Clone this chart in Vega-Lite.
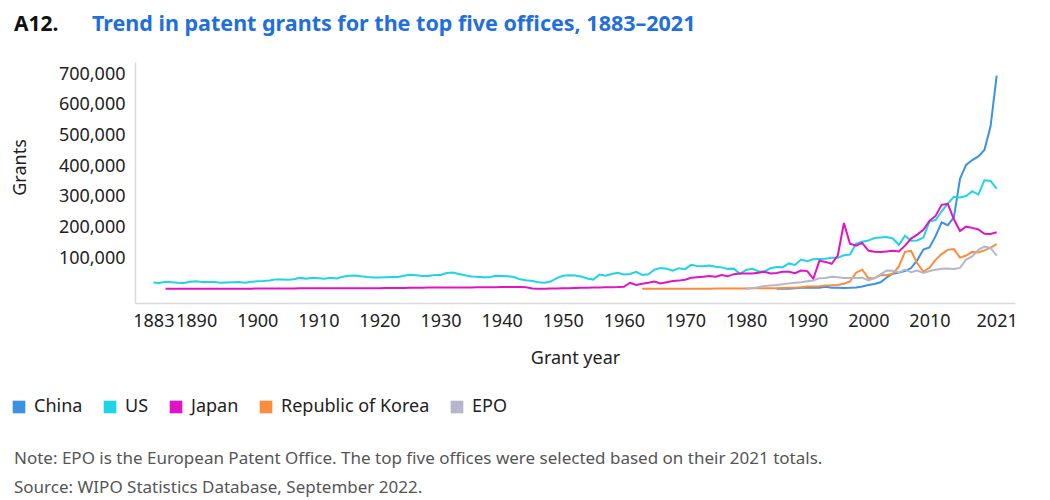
{
"$schema": "https://vega.github.io/schema/vega-lite/v6.json",
"width": 880, "height": 241,
"autosize": {"type": "none"},
"padding": {"left": 135, "top": 62, "right": 35, "bottom": 197},
"background": "white",
"config": {"view": {"stroke": null}, "font": "Noto Sans"},
"title": {"text": "A12.", "subtitle": "Trend in patent grants for the top five offices, 1883–2021", "anchor": "start", "frame": "group", "dx": -121, "offset": 27, "font": "Noto Sans", "fontSize": 21, "fontWeight": "bold", "color": "#111111", "subtitleFont": "Noto Sans", "subtitleFontSize": 21.5, "subtitleFontWeight": "bold", "subtitleColor": "#1f6fdc", "subtitlePadding": -21,
 "encode": {"subtitle": {"update": {"dx": {"value": -43}}}}},
"datasets": {
"us": [
{"year":1883,"grants":21200},{"year":1884,"grants":19100},{"year":1885,"grants":23300},{"year":1886,"grants":21800},{"year":1887,"grants":20400},{"year":1888,"grants":19600},{"year":1889,"grants":23300},{"year":1890,"grants":25300},{"year":1891,"grants":22300},{"year":1892,"grants":22700},{"year":1893,"grants":22800},{"year":1894,"grants":19900},{"year":1895,"grants":20900},{"year":1896,"grants":21900},{"year":1897,"grants":22100},{"year":1898,"grants":20400},{"year":1899,"grants":23300},{"year":1900,"grants":24600},{"year":1901,"grants":25500},{"year":1902,"grants":27100},{"year":1903,"grants":31000},{"year":1904,"grants":30300},{"year":1905,"grants":29800},{"year":1906,"grants":31200},{"year":1907,"grants":35900},{"year":1908,"grants":32800},{"year":1909,"grants":36600},{"year":1910,"grants":35100},{"year":1911,"grants":32900},{"year":1912,"grants":36200},{"year":1913,"grants":33900},{"year":1914,"grants":39900},{"year":1915,"grants":43100},{"year":1916,"grants":43900},{"year":1917,"grants":40900},{"year":1918,"grants":38500},{"year":1919,"grants":36800},{"year":1920,"grants":37100},{"year":1921,"grants":37800},{"year":1922,"grants":38400},{"year":1923,"grants":38600},{"year":1924,"grants":42600},{"year":1925,"grants":46400},{"year":1926,"grants":44700},{"year":1927,"grants":41700},{"year":1928,"grants":42400},{"year":1929,"grants":45300},{"year":1930,"grants":45200},{"year":1931,"grants":51800},{"year":1932,"grants":53500},{"year":1933,"grants":48800},{"year":1934,"grants":44400},{"year":1935,"grants":40600},{"year":1936,"grants":39800},{"year":1937,"grants":37700},{"year":1938,"grants":38100},{"year":1939,"grants":43100},{"year":1940,"grants":42200},{"year":1941,"grants":41100},{"year":1942,"grants":38500},{"year":1943,"grants":31100},{"year":1944,"grants":28100},{"year":1945,"grants":25700},{"year":1946,"grants":21800},{"year":1947,"grants":20100},{"year":1948,"grants":24000},{"year":1949,"grants":35100},{"year":1950,"grants":43000},{"year":1951,"grants":44400},{"year":1952,"grants":43600},{"year":1953,"grants":40500},{"year":1954,"grants":33800},{"year":1955,"grants":30400},{"year":1956,"grants":46800},{"year":1957,"grants":42700},{"year":1958,"grants":48300},{"year":1959,"grants":52400},{"year":1960,"grants":47200},{"year":1961,"grants":48400},{"year":1962,"grants":55700},{"year":1963,"grants":45700},{"year":1964,"grants":47400},{"year":1965,"grants":62900},{"year":1966,"grants":68400},{"year":1967,"grants":65700},{"year":1968,"grants":59100},{"year":1969,"grants":67600},{"year":1970,"grants":64400},{"year":1971,"grants":78300},{"year":1972,"grants":74800},{"year":1973,"grants":74100},{"year":1974,"grants":76300},{"year":1975,"grants":72000},{"year":1976,"grants":70200},{"year":1977,"grants":65300},{"year":1978,"grants":66100},{"year":1979,"grants":48900},{"year":1980,"grants":61800},{"year":1981,"grants":65800},{"year":1982,"grants":57900},{"year":1983,"grants":56900},{"year":1984,"grants":67200},{"year":1985,"grants":71700},{"year":1986,"grants":70900},{"year":1987,"grants":83000},{"year":1988,"grants":77900},{"year":1989,"grants":95500},{"year":1990,"grants":90400},{"year":1991,"grants":96500},{"year":1992,"grants":97400},{"year":1993,"grants":98300},{"year":1994,"grants":101700},{"year":1995,"grants":101400},{"year":1996,"grants":109600},{"year":1997,"grants":112000},{"year":1998,"grants":147500},{"year":1999,"grants":153500},{"year":2000,"grants":157500},{"year":2001,"grants":166000},{"year":2002,"grants":167300},{"year":2003,"grants":169000},{"year":2004,"grants":164300},{"year":2005,"grants":143800},{"year":2006,"grants":173800},{"year":2007,"grants":157300},{"year":2008,"grants":157800},{"year":2009,"grants":167300},{"year":2010,"grants":219600},{"year":2011,"grants":224500},{"year":2012,"grants":253200},{"year":2013,"grants":277800},{"year":2014,"grants":300700},{"year":2015,"grants":298400},{"year":2016,"grants":303000},{"year":2017,"grants":318800},{"year":2018,"grants":307800},{"year":2019,"grants":354400},{"year":2020,"grants":352000},{"year":2021,"grants":327300}
],
"japan": [
{"year":1885,"grants":100},{"year":1886,"grants":200},{"year":1887,"grants":200},{"year":1888,"grants":300},{"year":1889,"grants":400},{"year":1890,"grants":500},{"year":1891,"grants":600},{"year":1892,"grants":500},{"year":1893,"grants":500},{"year":1894,"grants":600},{"year":1895,"grants":600},{"year":1896,"grants":600},{"year":1897,"grants":600},{"year":1898,"grants":700},{"year":1899,"grants":800},{"year":1900,"grants":1000},{"year":1901,"grants":1200},{"year":1902,"grants":1200},{"year":1903,"grants":1300},{"year":1904,"grants":1500},{"year":1905,"grants":1600},{"year":1906,"grants":1600},{"year":1907,"grants":1700},{"year":1908,"grants":1800},{"year":1909,"grants":1900},{"year":1910,"grants":2000},{"year":1911,"grants":2100},{"year":1912,"grants":2200},{"year":1913,"grants":2300},{"year":1914,"grants":2100},{"year":1915,"grants":2000},{"year":1916,"grants":1900},{"year":1917,"grants":1900},{"year":1918,"grants":2000},{"year":1919,"grants":2100},{"year":1920,"grants":2400},{"year":1921,"grants":2600},{"year":1922,"grants":2800},{"year":1923,"grants":3000},{"year":1924,"grants":3200},{"year":1925,"grants":3600},{"year":1926,"grants":3800},{"year":1927,"grants":4000},{"year":1928,"grants":4200},{"year":1929,"grants":4400},{"year":1930,"grants":4600},{"year":1931,"grants":4800},{"year":1932,"grants":4500},{"year":1933,"grants":4400},{"year":1934,"grants":4600},{"year":1935,"grants":4800},{"year":1936,"grants":5000},{"year":1937,"grants":5200},{"year":1938,"grants":5400},{"year":1939,"grants":5600},{"year":1940,"grants":5800},{"year":1941,"grants":6000},{"year":1942,"grants":6200},{"year":1943,"grants":6000},{"year":1944,"grants":5000},{"year":1945,"grants":1000},{"year":1946,"grants":800},{"year":1947,"grants":700},{"year":1948,"grants":1000},{"year":1949,"grants":1400},{"year":1950,"grants":1900},{"year":1951,"grants":2400},{"year":1952,"grants":3000},{"year":1953,"grants":3500},{"year":1954,"grants":4000},{"year":1955,"grants":4400},{"year":1956,"grants":4700},{"year":1957,"grants":5000},{"year":1958,"grants":5500},{"year":1959,"grants":6000},{"year":1960,"grants":7000},{"year":1961,"grants":20000},{"year":1962,"grants":13000},{"year":1963,"grants":17000},{"year":1964,"grants":20000},{"year":1965,"grants":24000},{"year":1966,"grants":18000},{"year":1967,"grants":22000},{"year":1968,"grants":26000},{"year":1969,"grants":27000},{"year":1970,"grants":30000},{"year":1971,"grants":36000},{"year":1972,"grants":38000},{"year":1973,"grants":40000},{"year":1974,"grants":42000},{"year":1975,"grants":40000},{"year":1976,"grants":45000},{"year":1977,"grants":41000},{"year":1978,"grants":48000},{"year":1979,"grants":50000},{"year":1980,"grants":50000},{"year":1981,"grants":50000},{"year":1982,"grants":53000},{"year":1983,"grants":56000},{"year":1984,"grants":50000},{"year":1985,"grants":52000},{"year":1986,"grants":56000},{"year":1987,"grants":56000},{"year":1988,"grants":51000},{"year":1989,"grants":60000},{"year":1990,"grants":58000},{"year":1991,"grants":33000},{"year":1992,"grants":92000},{"year":1993,"grants":88000},{"year":1994,"grants":82000},{"year":1995,"grants":109000},{"year":1996,"grants":215000},{"year":1997,"grants":147000},{"year":1998,"grants":141000},{"year":1999,"grants":150000},{"year":2000,"grants":125000},{"year":2001,"grants":121000},{"year":2002,"grants":120000},{"year":2003,"grants":122000},{"year":2004,"grants":124000},{"year":2005,"grants":122000},{"year":2006,"grants":141000},{"year":2007,"grants":164000},{"year":2008,"grants":177000},{"year":2009,"grants":193000},{"year":2010,"grants":222000},{"year":2011,"grants":238000},{"year":2012,"grants":274000},{"year":2013,"grants":277000},{"year":2014,"grants":227000},{"year":2015,"grants":189000},{"year":2016,"grants":203000},{"year":2017,"grants":199000},{"year":2018,"grants":194000},{"year":2019,"grants":180000},{"year":2020,"grants":179000},{"year":2021,"grants":185000}
],
"korea": [
{"year":1963,"grants":300},{"year":1964,"grants":400},{"year":1965,"grants":500},{"year":1966,"grants":600},{"year":1967,"grants":600},{"year":1968,"grants":500},{"year":1969,"grants":400},{"year":1970,"grants":200},{"year":1971,"grants":300},{"year":1972,"grants":400},{"year":1973,"grants":500},{"year":1974,"grants":700},{"year":1975,"grants":900},{"year":1976,"grants":1000},{"year":1977,"grants":1100},{"year":1978,"grants":1200},{"year":1979,"grants":1400},{"year":1980,"grants":1600},{"year":1981,"grants":1800},{"year":1982,"grants":2000},{"year":1983,"grants":2100},{"year":1984,"grants":2200},{"year":1985,"grants":2300},{"year":1986,"grants":2900},{"year":1987,"grants":3600},{"year":1988,"grants":4100},{"year":1989,"grants":5000},{"year":1990,"grants":7800},{"year":1991,"grants":8200},{"year":1992,"grants":8500},{"year":1993,"grants":11400},{"year":1994,"grants":11700},{"year":1995,"grants":12500},{"year":1996,"grants":16500},{"year":1997,"grants":24600},{"year":1998,"grants":52900},{"year":1999,"grants":62600},{"year":2000,"grants":34900},{"year":2001,"grants":34700},{"year":2002,"grants":45300},{"year":2003,"grants":44200},{"year":2004,"grants":49100},{"year":2005,"grants":73500},{"year":2006,"grants":120800},{"year":2007,"grants":123700},{"year":2008,"grants":83500},{"year":2009,"grants":56700},{"year":2010,"grants":68800},{"year":2011,"grants":94700},{"year":2012,"grants":113500},{"year":2013,"grants":127300},{"year":2014,"grants":129800},{"year":2015,"grants":101900},{"year":2016,"grants":108900},{"year":2017,"grants":120700},{"year":2018,"grants":119000},{"year":2019,"grants":125700},{"year":2020,"grants":134700},{"year":2021,"grants":145900}
],
"china": [
{"year":1985,"grants":100},{"year":1986,"grants":100},{"year":1987,"grants":400},{"year":1988,"grants":2100},{"year":1989,"grants":3500},{"year":1990,"grants":3800},{"year":1991,"grants":4100},{"year":1992,"grants":3900},{"year":1993,"grants":6600},{"year":1994,"grants":3900},{"year":1995,"grants":3400},{"year":1996,"grants":2900},{"year":1997,"grants":3500},{"year":1998,"grants":4700},{"year":1999,"grants":7600},{"year":2000,"grants":13000},{"year":2001,"grants":16300},{"year":2002,"grants":21500},{"year":2003,"grants":37200},{"year":2004,"grants":49400},{"year":2005,"grants":53300},{"year":2006,"grants":57800},{"year":2007,"grants":68000},{"year":2008,"grants":93700},{"year":2009,"grants":128500},{"year":2010,"grants":135100},{"year":2011,"grants":172100},{"year":2012,"grants":217100},{"year":2013,"grants":207700},{"year":2014,"grants":233200},{"year":2015,"grants":359300},{"year":2016,"grants":404200},{"year":2017,"grants":420100},{"year":2018,"grants":432100},{"year":2019,"grants":452800},{"year":2020,"grants":530100},{"year":2021,"grants":695900}
],
"epo": [
{"year":1980,"grants":300},{"year":1981,"grants":1900},{"year":1982,"grants":5700},{"year":1983,"grants":9300},{"year":1984,"grants":11000},{"year":1985,"grants":12600},{"year":1986,"grants":15500},{"year":1987,"grants":18000},{"year":1988,"grants":20100},{"year":1989,"grants":21400},{"year":1990,"grants":24800},{"year":1991,"grants":27600},{"year":1992,"grants":35000},{"year":1993,"grants":35600},{"year":1994,"grants":39800},{"year":1995,"grants":37600},{"year":1996,"grants":35500},{"year":1997,"grants":35700},{"year":1998,"grants":35400},{"year":1999,"grants":36700},{"year":2000,"grants":27500},{"year":2001,"grants":34900},{"year":2002,"grants":47400},{"year":2003,"grants":59800},{"year":2004,"grants":59000},{"year":2005,"grants":53300},{"year":2006,"grants":62800},{"year":2007,"grants":54700},{"year":2008,"grants":59800},{"year":2009,"grants":51900},{"year":2010,"grants":58100},{"year":2011,"grants":62100},{"year":2012,"grants":65700},{"year":2013,"grants":66700},{"year":2014,"grants":64600},{"year":2015,"grants":68400},{"year":2016,"grants":95900},{"year":2017,"grants":105600},{"year":2018,"grants":127600},{"year":2019,"grants":137800},{"year":2020,"grants":133700},{"year":2021,"grants":108800}
]
},
"layer": [
{"data": {"name": "china"}, "transform": [{"calculate": "'China'", "as": "office"}], "mark": {"type": "line", "strokeWidth": 2}},
{"data": {"name": "us"}, "transform": [{"calculate": "'US'", "as": "office"}], "mark": {"type": "line", "strokeWidth": 2}},
{"data": {"name": "japan"}, "transform": [{"calculate": "'Japan'", "as": "office"}], "mark": {"type": "line", "strokeWidth": 2}},
{"data": {"name": "korea"}, "transform": [{"calculate": "'Republic of Korea'", "as": "office"}], "mark": {"type": "line", "strokeWidth": 2}},
{"data": {"name": "epo"}, "transform": [{"calculate": "'EPO'", "as": "office"}], "mark": {"type": "line", "strokeWidth": 2}}
],
"encoding": {
"x": {"field": "year", "type": "quantitative", "scale": {"domain": [1880, 2024], "nice": false, "zero": false},
 "axis": {"title": "Grant year", "values": [1883,1890,1900,1910,1920,1930,1940,1950,1960,1970,1980,1990,2000,2010,2021], "format": "d", "grid": false, "ticks": false, "domainColor": "#d9d9d9", "domainWidth": 1.5, "labelFontSize": 18, "labelColor": "#222222", "labelPadding": 9, "labelOverlap": false, "labelFlush": false, "titleFontSize": 18, "titleFontWeight": "normal", "titleColor": "#222222", "titlePadding": 19}},
"y": {"field": "grants", "type": "quantitative", "scale": {"domain": [-46000, 740000], "nice": false, "zero": false},
 "axis": {"title": "Grants", "values": [100000,200000,300000,400000,500000,600000,700000], "format": ",.0f", "grid": false, "ticks": false, "domainColor": "#d9d9d9", "domainWidth": 1.5, "labelFontSize": 18, "labelColor": "#222222", "labelPadding": 10, "titleFontSize": 18, "titleFontWeight": "normal", "titleColor": "#222222", "titleX": -115, "titleY": 105, "titleBaseline": "middle", "titleAngle": -90}},
"color": {"field": "office", "type": "nominal",
 "scale": {"domain": ["China", "US", "Japan", "Republic of Korea", "EPO"], "range": ["#3a91e6", "#1ed4e6", "#e014c4", "#fa8c3c", "#b4b6cc"]},
 "legend": {"orient": "none", "legendX": -125, "legendY": 336, "direction": "horizontal", "title": ["Note: EPO is the European Patent Office. The top five offices were selected based on their 2021 totals.", "Source: WIPO Statistics Database, September 2022."], "titleOrient": "bottom", "titleAnchor": "start", "titleFontSize": 17, "titleFontWeight": "normal", "titleColor": "#555555", "titleLineHeight": 29, "titlePadding": 35, "titleLimit": 1000, "symbolType": "square", "symbolSize": 160, "symbolStrokeWidth": 0, "symbolOpacity": 1, "labelFontSize": 18, "labelColor": "#222222", "labelOffset": 6, "columnPadding": 18, "labelLimit": 300,
  "encode": {"symbols": {"update": {"fill": {"scale": "color", "field": "value"}, "strokeWidth": {"value": 0}}}, "title": {"update": {"dx": {"value": 4}}}}}}
}
}
